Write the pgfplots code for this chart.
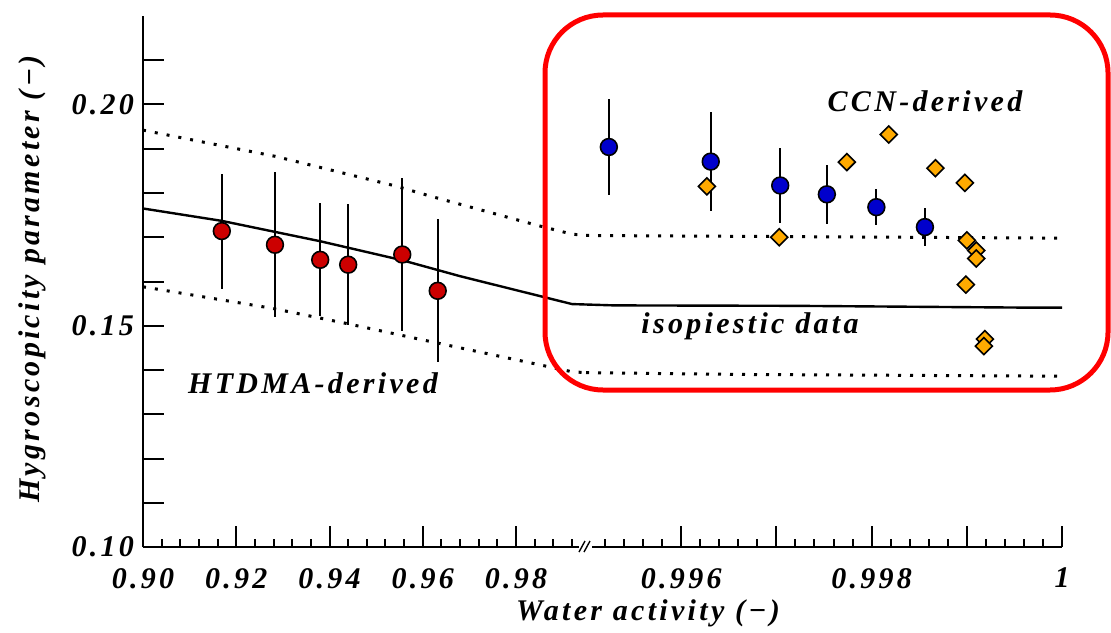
\documentclass[border=0pt]{standalone}
\usepackage{fontspec}
\setmainfont{Liberation Serif}
\newfontfamily\lblfont[LetterSpace=11]{Liberation Serif}
\usepackage{pgfplots}
\usepackage{pgfplotstable}
\pgfplotsset{compat=1.18}
\newcommand\lf{\fontsize{15}{17}\selectfont\lblfont\bfseries\itshape}
\definecolor{htred}{RGB}{204,0,0}
\definecolor{ccnblue}{RGB}{0,0,204}
\definecolor{ccnorange}{RGB}{255,170,0}

\pgfplotstableread{
x y e
0.9169 0.1714 0.0130
0.9283 0.1683 0.0164
0.9380 0.1649 0.0128
0.9440 0.1638 0.0137
0.9556 0.1661 0.0172
0.9632 0.1579 0.0162
}\tabhtdma
\pgfplotstableread{
x y e
0.99524 0.1904 0.0109
0.99631 0.1871 0.0112
0.99704 0.1817 0.0084
0.99753 0.1797 0.0067
0.99805 0.1768 0.0041
0.99856 0.1723 0.0043
}\tabblue
\pgfplotstableread{
x y
0.99627 0.1815
0.99703 0.1700
0.99774 0.1870
0.99818 0.1932
0.99867 0.1856
0.99898 0.1823
0.99900 0.1693
0.99910 0.1670
0.99910 0.1652
0.99899 0.1593
0.99919 0.1470
0.99918 0.1454
}\taborange

\pgfplotsset{
  brk/.style={
    scale only axis, height=265.5pt, ymin=0.10, ymax=0.22,
    tick align=inside,
    major tick length=10.5pt, minor tick length=4pt,
    every tick/.style={black, line width=1pt},
    axis line style={-, line width=1pt},
    ticklabel style={font=\lf},
    xticklabel style={yshift=-7pt},
    scaled x ticks=false, scaled y ticks=false,
    clip=false,
  },
  isoline/.style={black, line width=1.2pt},
  dotline/.style={black, line width=1.5pt, dash pattern=on 1.5pt off 4.5pt},
}

\begin{document}
\begin{tikzpicture}
\begin{axis}[brk, at={(0pt,0pt)}, anchor=south west, width=221.5pt,
  xmin=0.90, xmax=0.995,
  axis x line*=bottom, axis y line*=left,
  x axis line style={shorten >=3.5pt},
  xtick={0.90,0.92,0.94,0.96,0.98}, xticklabels={0.90,0.92,0.94,0.96,0.98},
  minor xtick={0.904,0.908,0.912,0.916,0.924,0.928,0.932,0.936,0.944,0.948,0.952,0.956,0.964,0.968,0.972,0.976,0.984,0.988,0.992},
  ytick={0.10,0.11,0.12,0.13,0.14,0.15,0.16,0.17,0.18,0.19,0.20,0.21},
  yticklabels={0.10,,,,,0.15,,,,,0.20,},
  yticklabel style={xshift=-1pt},
]
\addplot[isoline] coordinates {(0.900,0.1765) (0.9169,0.1737) (0.9380,0.1691) (0.9556,0.1648) (0.9680,0.1612) (0.9859,0.1565) (0.9920,0.1549) (0.995,0.1548)};
\addplot[dotline] coordinates {(0.900,0.1942) (0.9283,0.1883) (0.9541,0.1816) (0.9616,0.1793) (0.9845,0.1727) (0.9920,0.1707) (0.995,0.1704)};
\addplot[dotline] coordinates {(0.900,0.1588) (0.9279,0.1539) (0.9437,0.1505) (0.9609,0.1466) (0.9845,0.1413) (0.9920,0.1396) (0.995,0.1394)};
\addplot[only marks, mark=*, mark size=4.2pt, mark options={fill=htred, draw=black, line width=0.8pt},
  error bars/.cd, y dir=both, y explicit, error mark=none,
  error bar style={black, line width=1pt}]
  table[x=x, y=y, y error=e] {\tabhtdma};
\end{axis}

\begin{axis}[brk, at={(221.5pt,0pt)}, anchor=south west, width=238pt,
  xmin=0.995, xmax=1.0,
  axis x line*=bottom, axis y line=none,
  x axis line style={shorten <=3pt},
  xtick={0.996,0.997,0.998,0.999,1}, xticklabels={0.996,,0.998,,1},
  minor xtick={0.9952,0.9954,0.9956,0.9958,0.9962,0.9964,0.9966,0.9968,0.9972,0.9974,0.9976,0.9978,0.9982,0.9984,0.9986,0.9988,0.9992,0.9994,0.9996,0.9998},
  ytick=\empty,
]
\addplot[isoline] coordinates {(0.995,0.1548) (0.9953,0.1546) (0.9972,0.1545) (0.9996,0.1541) (1.0,0.1541)};
\addplot[dotline] coordinates {(0.995,0.1704) (0.9975,0.1701) (1.0,0.1698)};
\addplot[dotline] coordinates {(0.995,0.1394) (0.9966,0.1390) (1.0,0.1386)};
\addplot[only marks, mark=*, mark size=4.2pt, mark options={fill=ccnblue, draw=black, line width=0.8pt},
  error bars/.cd, y dir=both, y explicit, error mark=none,
  error bar style={black, line width=1pt}]
  table[x=x, y=y, y error=e] {\tabblue};
\addplot[only marks, mark=square*, mark size=3pt, mark options={fill=ccnorange, draw=black, line width=0.8pt, rotate=45}]
  table[x=x, y=y] {\taborange};
\end{axis}

\begin{scope}[x=0.5pt, y=-0.5pt, shift={(-71.5pt,273.5pt)}]
  \draw[red, line width=2.5pt, rounded corners=29pt] (545,15) rectangle (1108,390);
  \draw[line width=0.7pt] (579,552) -- (585,541) (584,552) -- (590,541);
  \node[font=\lf] at (313,383) {HTDMA-derived};
  \node[font=\lf] at (925,101) {CCN-derived};
  \node[font=\lf] at (750,326) {isopiestic data};
  \node[font=\lf] at (648,613) {Water activity (−)};
  \node[font=\lf, rotate=90] at (32,279) {Hygroscopicity parameter (−)};
  \pgfresetboundingbox
  \path[use as bounding box] (0,0) rectangle (1111,632);
\end{scope}
\end{tikzpicture}
\end{document}
